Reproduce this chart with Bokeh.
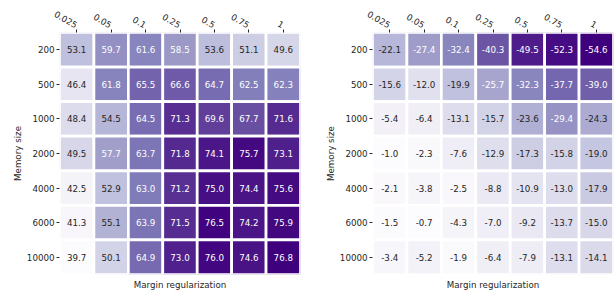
import math
from bokeh.plotting import figure
from bokeh.layouts import row
from bokeh.models import FactorRange, ColumnDataSource, LinearColorMapper, Title
from bokeh.transform import transform
from bokeh.palettes import Purples256
from bokeh.core.properties import value
from bokeh.embed import file_html
from bokeh.resources import INLINE

memory = ["200", "500", "1000", "2000", "4000", "6000", "10000"]
margin = ["0.025", "0.05", "0.1", "0.25", "0.5", "0.75", "1"]

left_200 = [53.1, 59.7, 61.6, 58.5, 53.6, 51.1, 49.6]
left_500 = [46.4, 61.8, 65.5, 66.6, 64.7, 62.5, 62.3]
left_1000 = [48.4, 54.5, 64.5, 71.3, 69.6, 67.7, 71.6]
left_2000 = [49.5, 57.7, 63.7, 71.8, 74.1, 75.7, 73.1]
left_4000 = [42.5, 52.9, 63.0, 71.2, 75.0, 74.4, 75.6]
left_6000 = [41.3, 55.1, 63.9, 71.5, 76.5, 74.2, 75.9]
left_10000 = [39.7, 50.1, 64.9, 73.0, 76.0, 74.6, 76.8]

right_200 = [-22.1, -27.4, -32.4, -40.3, -49.5, -52.3, -54.6]
right_500 = [-15.6, -12.0, -19.9, -25.7, -32.3, -37.7, -39.0]
right_1000 = [-5.4, -6.4, -13.1, -15.7, -23.6, -29.4, -24.3]
right_2000 = [-1.0, -2.3, -7.6, -12.9, -17.3, -15.8, -19.0]
right_4000 = [-2.1, -3.8, -2.5, -8.8, -10.9, -13.0, -17.9]
right_6000 = [-1.5, -0.7, -4.3, -7.0, -9.2, -13.7, -15.0]
right_10000 = [-3.4, -5.2, -1.9, -6.4, -7.9, -13.1, -14.1]

left_rows = [left_200, left_500, left_1000, left_2000, left_4000, left_6000, left_10000]
right_rows = [right_200, right_500, right_1000, right_2000, right_4000, right_6000, right_10000]

FONT = "DejaVu Sans"
FS = "8.7px"
TXT = "#262626"


def lum(hexcol):
    c = [int(hexcol[i:i + 2], 16) / 255 for i in (1, 3, 5)]
    c = [x / 12.92 if x <= 0.03928 else ((x + 0.055) / 1.055) ** 2.4 for x in c]
    return 0.2126 * c[0] + 0.7152 * c[1] + 0.0722 * c[2]


def heat(rows, palette, border_left, width, border_right):
    xs, ys, vals, labels = [], [], [], []
    for m, r in zip(memory, rows):
        for g, v in zip(margin, r):
            xs.append(g)
            ys.append(m)
            vals.append(v)
            labels.append(f"{v:.1f}")
    lo, hi = min(vals), max(vals)
    n = len(palette)
    tcols = []
    for v in vals:
        idx = min(n - 1, int((v - lo) / (hi - lo) * n))
        tcols.append(TXT if lum(palette[idx]) > 0.408 else "white")
    src = ColumnDataSource(dict(x=xs, y=ys, v=vals, label=labels, tc=tcols))
    mapper = LinearColorMapper(palette=palette, low=lo, high=hi)
    p = figure(x_range=FactorRange(*margin), y_range=FactorRange(*reversed(memory)),
               width=width, height=292, output_backend="svg", toolbar_location=None,
               x_axis_location="above", min_border_left=border_left,
               min_border_right=border_right, min_border_top=32, min_border_bottom=18)
    p.rect(x="x", y="y", width=1, height=1, source=src,
           fill_color=transform("v", mapper), line_color="white", line_width=2.7)
    p.text(x="x", y="y", text="label", source=src, text_color="tc",
           text_align="center", text_baseline="middle", text_font=value(FONT),
           text_font_size=FS)
    p.grid.visible = False
    p.outline_line_color = None
    for ax in (p.xaxis[0], p.yaxis[0]):
        ax.axis_line_color = None
        ax.major_tick_line_color = TXT
        ax.major_tick_out = 3
        ax.major_tick_in = 0
        ax.major_label_text_font = FONT
        ax.major_label_text_font_size = FS
        ax.major_label_text_color = TXT
        ax.axis_label_text_font = FONT
        ax.axis_label_text_font_size = FS
        ax.axis_label_text_font_style = "normal"
        ax.axis_label_text_color = TXT
    p.xaxis[0].major_label_orientation = -math.pi / 6
    p.xaxis[0].major_label_standoff = 4
    p.yaxis[0].axis_label = "Memory size"
    p.yaxis[0].major_label_standoff = 2
    p.yaxis[0].axis_label_standoff = 1
    p.add_layout(Title(text="Margin regularization", align="center", text_font=FONT,
                       text_font_size=FS, text_font_style="normal", text_color=TXT,
                       standoff=6), "below")
    return p


p1 = heat(left_rows, list(reversed(Purples256)), 59, 305, 5)
p2 = heat(right_rows, list(Purples256), 67, 310, 2)
p = row(p1, p2)
open("out.html", "w").write(file_html(p, INLINE))
